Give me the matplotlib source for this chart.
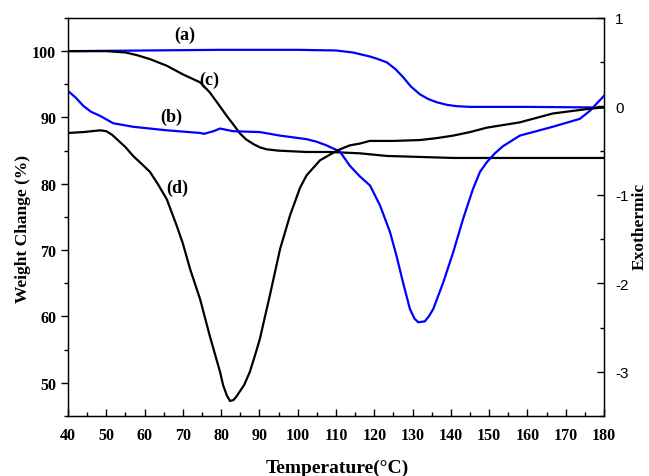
import matplotlib.pyplot as plt
from matplotlib.ticker import MultipleLocator

plt.rcParams['axes.unicode_minus'] = False

# TG curves (left axis, %)
t_a = [40, 60, 80, 100, 110, 114.4, 118.8, 121, 123.3, 125.5, 127.5, 129.5, 131.9, 134, 136.3, 139, 141.6, 145, 160, 180]
w_a = [100, 100.1, 100.2, 100.2, 100.1, 99.8, 99.2, 98.8, 98.3, 97.3, 96.1, 94.7, 93.5, 92.8, 92.3, 91.9, 91.7, 91.6, 91.6, 91.5]

t_c = [40, 50, 55, 58, 61.4, 65.8, 70, 74.5, 77, 78.9, 81.5, 83.1, 84.9, 86.5, 88.4, 90.1, 91.9, 95, 102.3, 108.4, 116.2,
       123.3, 140.6, 180]
w_c = [100, 100, 99.8, 99.4, 98.8, 97.8, 96.5, 95.3, 93.8, 92.3, 90.2, 89.0, 87.6, 86.7, 86.0, 85.5, 85.2, 85.0, 84.8,
       84.8, 84.6, 84.2, 83.9, 83.9]

# DSC curves (right axis)
t_b = [40, 42, 44, 46, 48.4, 51.8, 57, 65.8, 74.5, 75.5, 78, 79.7, 83.1, 90.1, 95.4, 102.3, 105, 107.5, 111, 113.6,
       116.2, 118.9, 121.5, 124.1, 125.8, 127.5, 129.3, 130.5, 131.5, 133.2, 134.3, 135.4, 138, 140.6, 143.2, 145.8,
       147.6, 149.4, 151.5, 153.6, 158, 166.6, 173.7, 176.3, 180]
d_b = [0.175, 0.10, 0.006, -0.06, -0.107, -0.19, -0.23, -0.27, -0.30, -0.31, -0.28, -0.25, -0.28, -0.29, -0.33,
       -0.37, -0.40, -0.44, -0.51, -0.67, -0.79, -0.895, -1.12, -1.42, -1.69, -1.99, -2.29, -2.40, -2.44, -2.43,
       -2.37, -2.29, -1.99, -1.65, -1.27, -0.93, -0.74, -0.63, -0.53, -0.45, -0.33, -0.23, -0.14, -0.05, 0.12]

t_d = [40, 44, 48.4, 50, 51.5, 53, 55, 57, 59, 61.4, 63.5, 65.8, 68.4, 70, 71.9, 74.5, 77, 79.7, 80.5, 81.5, 82.3,
       83.2, 84, 84.9, 86, 87.5, 88.8, 90.1, 92.7, 95.4, 98, 100.6, 102.3, 105.8, 110.2, 113.6, 116.2, 118.8, 125,
       131.9, 136, 140.6, 145, 149.4, 158, 166.6, 175.5, 180]
d_d = [-0.30, -0.29, -0.27, -0.28, -0.32, -0.38, -0.46, -0.56, -0.64, -0.74, -0.88, -1.05, -1.35, -1.55, -1.84,
       -2.18, -2.59, -3.0, -3.15, -3.27, -3.33, -3.32, -3.28, -3.22, -3.15, -3.0, -2.82, -2.63, -2.14, -1.61, -1.23,
       -0.92, -0.78, -0.61, -0.50, -0.44, -0.42, -0.39, -0.39, -0.38, -0.36, -0.33, -0.29, -0.24, -0.18, -0.08,
       -0.03, -0.01]

serif = 'Liberation Serif'

fig = plt.figure(figsize=(6.49, 4.77), dpi=100)
ax = fig.add_axes([0.1048, 0.1258, 0.8259, 0.8344])
ax2 = ax.twinx()

ax.plot(t_a, w_a, color='#0000ff', lw=1.6)
ax.plot(t_c, w_c, color='black', lw=1.6)
ax2.plot(t_b, d_b, color='#0000ff', lw=1.6)
ax2.plot(t_d, d_d, color='black', lw=1.6)

ax.set_xlim(40, 180)
ax.set_ylim(45, 105)
ax2.set_ylim(-3.5, 1)

ax.xaxis.set_major_locator(MultipleLocator(10))
ax.xaxis.set_minor_locator(MultipleLocator(5))
ax.yaxis.set_major_locator(MultipleLocator(10))
ax.yaxis.set_minor_locator(MultipleLocator(5))
ax2.yaxis.set_major_locator(MultipleLocator(1))
ax2.yaxis.set_minor_locator(MultipleLocator(0.5))

ax.tick_params(axis='y', which='major', direction='out', length=5, width=1)
ax.tick_params(axis='y', which='minor', direction='out', length=3, width=1)
ax.tick_params(axis='x', which='major', direction='in', length=5, width=1, pad=8)
ax.tick_params(axis='x', which='minor', direction='in', length=3, width=1)
ax2.tick_params(which='major', direction='in', length=5, width=1, pad=8)
ax2.tick_params(which='minor', direction='in', length=3, width=1)
for s in ax.spines.values():
    s.set_linewidth(1)

for lbl in ax.get_xticklabels() + ax.get_yticklabels():
    lbl.set_fontfamily(serif)
    lbl.set_fontweight('bold')
    lbl.set_fontsize(11.5)
for lbl in ax2.get_yticklabels():
    lbl.set_fontfamily('Liberation Sans')
    lbl.set_fontsize(11)

# axis titles placed in figure coordinates to match the reference layout
fig.text(0.519, 0.019, 'Temperature(\u00b0C)', fontfamily=serif, fontweight='bold', fontsize=14,
         ha='center', va='center')
fig.text(0.036, 0.52, 'Weight Change (%)', fontfamily=serif, fontweight='bold', fontsize=12.5,
         ha='center', va='center', rotation=90)
fig.text(0.986, 0.526, 'Exothermic', fontfamily=serif, fontweight='bold', fontsize=12.5,
         ha='center', va='center', rotation=90)

for txt, x, y in [('(a)', 70.5, 102.6), ('(c)', 77, 95.8), ('(b)', 67, 90.1), ('(d)', 68.5, 79.5)]:
    ax.text(x, y, txt, fontfamily=serif, fontweight='bold', fontsize=13, ha='center', va='center')

fig.savefig('out.png', dpi=100)
